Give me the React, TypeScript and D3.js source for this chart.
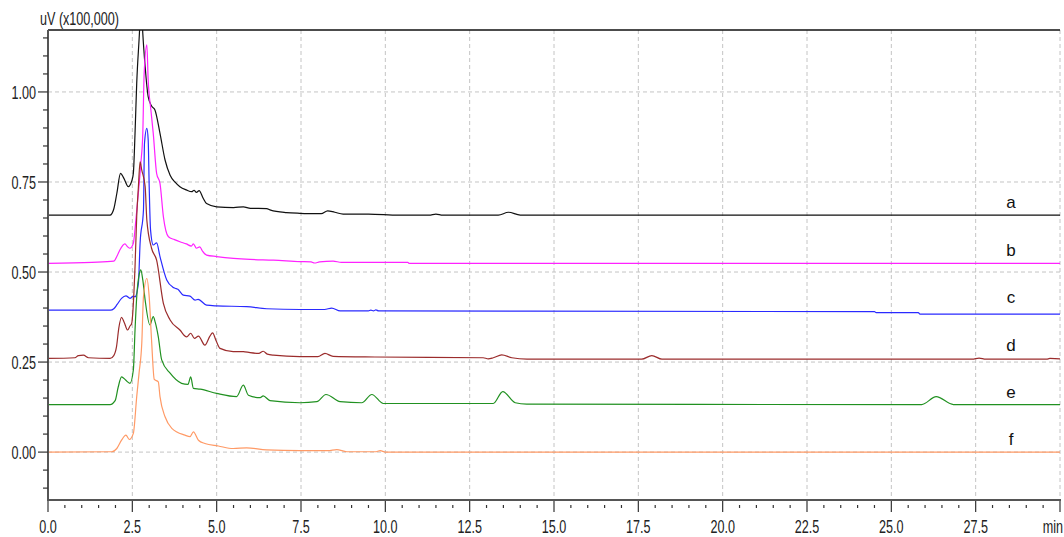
import React, { useEffect, useRef } from 'react'
import * as d3 from 'd3'

// signal in uV (x100,000), traces already stacked with their offsets
const traceNames = ['a', 'b', 'c', 'd', 'e', 'f']
const traceColors = ['#111111', '#ff22ff', '#2a2aff', '#9b2c2c', '#219121', '#ff9a66']

const traceA = [
    [0, 0.658], [1.84, 0.658], [1.95, 0.675], [2.04, 0.718], [2.15, 0.774], [2.25, 0.76], [2.38, 0.737],
    [2.48, 0.752], [2.53, 0.774], [2.58, 0.885], [2.63, 1.024], [2.71, 1.163], [2.76, 1.26], [2.81, 1.163],
    [2.88, 1.07], [2.97, 0.987], [3.07, 0.961], [3.17, 0.95], [3.32, 0.885], [3.47, 0.811], [3.62, 0.769],
    [3.76, 0.75], [3.91, 0.737], [4.1, 0.728], [4.26, 0.723], [4.33, 0.727], [4.4, 0.721], [4.48, 0.726],
    [4.6, 0.705], [4.7, 0.69], [5.0, 0.681], [5.5, 0.679], [5.79, 0.681], [6.0, 0.677], [6.48, 0.676],
    [6.6, 0.672], [7.07, 0.665], [7.47, 0.663], [7.9, 0.662], [8.1, 0.662], [8.29, 0.67], [8.5, 0.666],
    [8.75, 0.661], [9.5, 0.661], [10.4, 0.658], [11.3, 0.658], [11.5, 0.661], [11.7, 0.658], [13.35, 0.658],
    [13.65, 0.666], [14.0, 0.658], [30, 0.658]
]

const traceB = [
    [0, 0.524], [1.3, 0.527], [1.95, 0.53], [2.05, 0.545], [2.13, 0.561], [2.28, 0.578], [2.36, 0.57],
    [2.43, 0.566], [2.53, 0.58], [2.61, 0.65], [2.68, 0.72], [2.75, 0.8], [2.81, 0.885], [2.85, 1.05],
    [2.93, 1.131], [2.97, 1.033], [3.05, 0.95], [3.12, 0.885], [3.22, 0.774], [3.32, 0.746], [3.42, 0.654],
    [3.57, 0.598], [3.75, 0.59], [3.91, 0.584], [4.1, 0.578], [4.25, 0.572], [4.31, 0.578], [4.4, 0.566],
    [4.5, 0.57], [4.58, 0.558], [4.7, 0.547], [5.0, 0.543], [5.5, 0.538], [5.99, 0.535], [6.68, 0.533],
    [7.47, 0.529], [7.8, 0.528], [7.9, 0.525], [8.05, 0.528], [8.45, 0.53], [8.7, 0.527], [10.67, 0.527],
    [10.7, 0.524], [30, 0.524]
]

const traceC = [
    [0, 0.394], [1.85, 0.394], [1.95, 0.398], [2.05, 0.41], [2.18, 0.427], [2.31, 0.434], [2.43, 0.427],
    [2.53, 0.433], [2.58, 0.431], [2.68, 0.469], [2.73, 0.58], [2.83, 0.672], [2.86, 0.857], [2.93, 0.899],
    [2.97, 0.867], [3.0, 0.737], [3.04, 0.617], [3.12, 0.575], [3.22, 0.581], [3.32, 0.543], [3.52, 0.478],
    [3.7, 0.458], [3.77, 0.455], [3.85, 0.452], [4.01, 0.436], [4.21, 0.433], [4.36, 0.422], [4.45, 0.424],
    [4.7, 0.408], [5.0, 0.406], [5.89, 0.404], [6.48, 0.398], [7.47, 0.396], [8.2, 0.396], [8.41, 0.4],
    [8.66, 0.392], [9.5, 0.392], [9.57, 0.394], [9.65, 0.392], [9.72, 0.395], [9.8, 0.392], [24.5, 0.39],
    [24.55, 0.387], [25.8, 0.387], [25.85, 0.383], [30, 0.383]
]

const traceD = [
    [0, 0.26], [0.8, 0.262], [0.9, 0.268], [1.05, 0.269], [1.2, 0.262], [1.84, 0.26], [1.95, 0.268],
    [2.03, 0.292], [2.1, 0.345], [2.18, 0.374], [2.26, 0.36], [2.36, 0.339], [2.43, 0.35], [2.48, 0.357],
    [2.58, 0.515], [2.63, 0.654], [2.68, 0.737], [2.73, 0.806], [2.78, 0.783], [2.88, 0.737], [2.93, 0.644],
    [3.07, 0.566], [3.22, 0.533], [3.42, 0.413], [3.62, 0.367], [3.91, 0.339], [4.11, 0.32], [4.23, 0.33],
    [4.34, 0.316], [4.46, 0.322], [4.65, 0.297], [4.8, 0.322], [4.88, 0.331], [4.98, 0.31], [5.1, 0.288],
    [5.49, 0.279], [5.79, 0.279], [5.99, 0.276], [6.25, 0.274], [6.38, 0.28], [6.5, 0.272], [6.68, 0.269],
    [7.47, 0.265], [8.0, 0.265], [8.21, 0.274], [8.45, 0.266], [9.69, 0.264], [12.9, 0.262], [13.05, 0.259],
    [13.2, 0.262], [13.45, 0.27], [13.75, 0.262], [14.2, 0.258], [17.6, 0.258], [17.9, 0.268], [18.2, 0.258],
    [27.4, 0.258], [27.6, 0.261], [27.8, 0.258], [29.6, 0.258], [29.7, 0.26], [30, 0.259]
]

const traceE = [
    [0, 0.132], [1.84, 0.132], [1.99, 0.143], [2.08, 0.18], [2.18, 0.209], [2.3, 0.2], [2.43, 0.191],
    [2.53, 0.228], [2.58, 0.339], [2.63, 0.431], [2.71, 0.496], [2.75, 0.506], [2.81, 0.478], [2.88, 0.422],
    [3.02, 0.353], [3.12, 0.376], [3.18, 0.36], [3.27, 0.32], [3.37, 0.256], [3.62, 0.219], [3.96, 0.191],
    [4.15, 0.188], [4.23, 0.209], [4.31, 0.177], [4.51, 0.175], [5.0, 0.163], [5.59, 0.154], [5.79, 0.186],
    [5.94, 0.158], [6.29, 0.151], [6.38, 0.156], [6.58, 0.143], [7.47, 0.137], [7.97, 0.14], [8.24, 0.16],
    [8.66, 0.14], [9.3, 0.137], [9.6, 0.16], [9.94, 0.135], [13.2, 0.135], [13.48, 0.168], [13.85, 0.137],
    [14.19, 0.133], [25.9, 0.132], [26.33, 0.154], [26.84, 0.132], [30, 0.132]
]

const traceF = [
    [0, 0], [1.89, 0.001], [2.04, 0.01], [2.18, 0.033], [2.31, 0.047], [2.41, 0.035], [2.53, 0.052],
    [2.63, 0.154], [2.7, 0.22], [2.78, 0.302], [2.83, 0.431], [2.93, 0.482], [3.0, 0.431], [3.07, 0.311],
    [3.15, 0.202], [3.27, 0.195], [3.32, 0.154], [3.47, 0.098], [3.67, 0.066], [4.06, 0.047], [4.21, 0.043],
    [4.31, 0.056], [4.46, 0.033], [4.65, 0.024], [5.05, 0.017], [5.49, 0.01], [5.89, 0.012], [6.48, 0.006],
    [7.47, 0.004], [8.3, 0.004], [8.56, 0.007], [8.86, 0.001], [9.7, 0.001], [9.85, 0.004], [10.0, 0], [30, 0]
]

const traces = [traceA, traceB, traceC, traceD, traceE, traceF]
const traceBaselines = [0.658, 0.524, 0.394, 0.26, 0.132, 0]

const xMajorTicks = [0, 2.5, 5, 7.5, 10, 12.5, 15, 17.5, 20, 22.5, 25, 27.5, 30]
const xTickLabels = ['0.0', '2.5', '5.0', '7.5', '10.0', '12.5', '15.0', '17.5', '20.0', '22.5', '25.0', '27.5', 'min']
const yMajorTicks = [0, 0.25, 0.5, 0.75, 1.0]
const yTickLabels = ['0.00', '0.25', '0.50', '0.75', '1.00']

const width = 1064
const height = 537
const margin = { left: 48, right: 4, top: 30, bottom: 37 }
const font = '"Liberation Sans", Arial, sans-serif'

function Chromatogram() {
    const ref = useRef(null)

    useEffect(() => {
        const x = d3.scaleLinear().domain([0, 30]).range([margin.left, width - margin.right])
        const y = d3.scaleLinear().domain([-0.133, 1.172]).range([height - margin.bottom, margin.top])
        const x0 = x(0), x1 = x(30), y0 = y.range()[0], y1 = y.range()[1]

        const svg = d3.select(ref.current)
        svg.selectAll('*').remove()

        svg.append('clipPath').attr('id', 'plot-clip')
            .append('rect').attr('x', x0).attr('y', y1).attr('width', x1 - x0).attr('height', y0 - y1)

        // dashed grid
        const grid = svg.append('g').attr('stroke', '#c4c4c4').attr('stroke-dasharray', '4,3').attr('stroke-width', 1)
        grid.selectAll('.vg').data(xMajorTicks.slice(1)).join('line')
            .attr('x1', d => x(d)).attr('x2', d => x(d)).attr('y1', y1).attr('y2', y0)
        grid.selectAll('.hg').data(yMajorTicks).join('line')
            .attr('x1', x0).attr('x2', x1).attr('y1', d => y(d)).attr('y2', d => y(d))

        // traces
        const line = d3.line().curve(d3.curveMonotoneX).x(d => x(d[0])).y(d => y(d[1]))
        svg.append('g').attr('clip-path', 'url(#plot-clip)')
            .selectAll('path').data(traces).join('path')
            .attr('fill', 'none')
            .attr('stroke', (_d, i) => traceColors[i])
            .attr('stroke-width', 1.2)
            .attr('stroke-linejoin', 'round')
            .attr('d', d => line(d))

        // trace labels
        svg.append('g').selectAll('text').data(traceNames).join('text')
            .attr('x', x(28.55)).attr('y', (_d, i) => y(traceBaselines[i]) - 7)
            .attr('text-anchor', 'middle')
            .attr('font-family', font).attr('font-size', 17).attr('fill', '#111')
            .text(d => d)

        // frame / axes
        svg.append('line').attr('x1', x0).attr('x2', x1).attr('y1', y1).attr('y2', y1)
            .attr('stroke', '#111').attr('stroke-width', 1.5)
        svg.append('line').attr('x1', x0).attr('x2', x0).attr('y1', y1).attr('y2', y0 + 1)
            .attr('stroke', '#555').attr('stroke-width', 2)
        svg.append('line').attr('x1', x0 - 1).attr('x2', x1 + 1).attr('y1', y0).attr('y2', y0)
            .attr('stroke', '#555').attr('stroke-width', 2)

        const ticks = svg.append('g').attr('stroke', '#333').attr('stroke-width', 1.2)
        ticks.selectAll('.xm').data(d3.range(0, 30.01, 0.5)).join('line')
            .attr('x1', d => x(d)).attr('x2', d => x(d))
            .attr('y1', d => (d % 2.5 === 0 ? y0 + 1 : y0 + 5))
            .attr('y2', d => (d % 2.5 === 0 ? y0 + 12 : y0 + 8))
        ticks.selectAll('.ym').data(d3.range(-0.10, 1.151, 0.05)).join('line')
            .attr('y1', d => y(d)).attr('y2', d => y(d))
            .attr('x1', d => (Math.abs(Math.round(d * 100) % 25) === 0 ? x0 - 10 : x0 - 5))
            .attr('x2', x0)

        // compressed tick labels
        const label = (g, tx, ty, anchor, text) =>
            g.append('text')
                .attr('transform', `translate(${tx},${ty}) scale(0.7,1)`)
                .attr('text-anchor', anchor)
                .attr('font-family', font).attr('font-size', 18).attr('fill', '#222')
                .text(text)

        const lbl = svg.append('g')
        xMajorTicks.forEach((t, i) => {
            if (i === xMajorTicks.length - 1) label(lbl, x(t) + 3, 533, 'end', xTickLabels[i])
            else label(lbl, x(t), 533, 'middle', xTickLabels[i])
        })
        yMajorTicks.forEach((t, i) => label(lbl, x0 - 12, y(t) + 7, 'end', yTickLabels[i]))
        label(lbl, 40, 25, 'start', 'uV (x100,000)')
    }, [])

    return <svg ref={ref} width={width} height={height} style={{ display: 'block', background: '#fff' }} />
}

export default function App() {
    return (
        <div style={{ position: 'absolute', left: 0, top: 0 }}>
            <Chromatogram />
        </div>
    )
}
